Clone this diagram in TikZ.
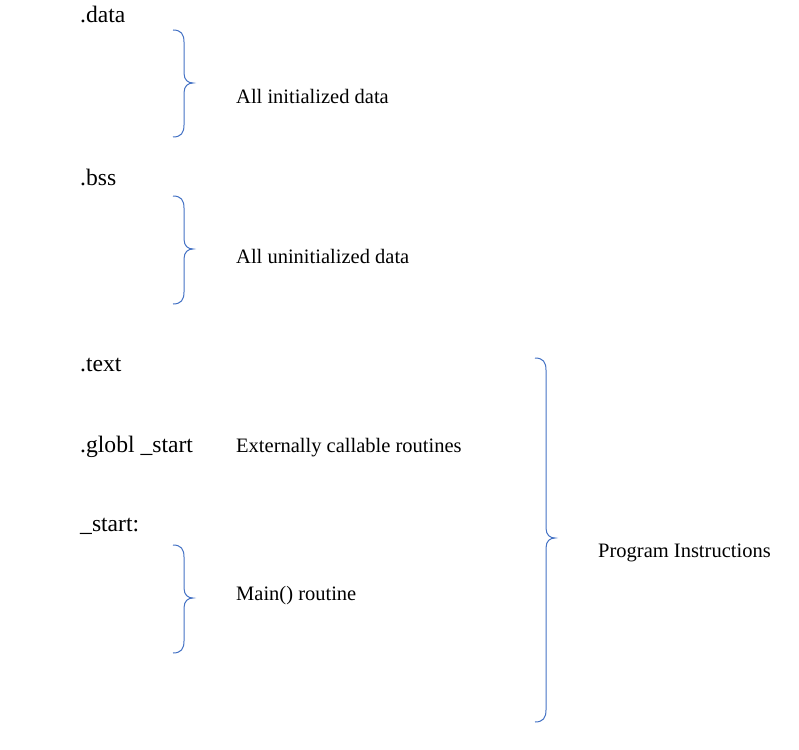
\documentclass[tikz,border=0pt]{standalone}
\usepackage{fontspec}
\setmainfont{Liberation Serif}
\definecolor{bracecol}{RGB}{68,114,196}
\tikzset{
  big/.style={anchor=base west,inner sep=0pt,font=\fontsize{23.6}{27}\selectfont},
  small/.style={anchor=base west,inner sep=0pt,font=\fontsize{20.5}{24}\selectfont},
  bracepath/.style={draw=bracecol,line width=1pt}
}
% \wbrace{x of line}{top y}{mid y}{bottom y}
\newcommand{\wbrace}[4]{%
  \draw[bracepath] (#1-11,#2) .. controls (#1-3,#2) and (#1,#2+4) .. (#1,#2+12)
    -- (#1,#3-10) .. controls (#1,#3-3) and (#1+4,#3) .. (#1+9,#3)
    .. controls (#1+4,#3) and (#1,#3+3) .. (#1,#3+10)
    -- (#1,#4-12) .. controls (#1,#4-4) and (#1-3,#4) .. (#1-11,#4);%
}
\begin{document}
\begin{tikzpicture}[x=1pt,y=-1pt]
\useasboundingbox (0,0) rectangle (799,749);
\node[big] (data) at (80,23) {.data};
\node[big] (bss) at (80,185) {.bss};
\node[big] (text) at (80,371) {.text};
\node[big] (globl) at (80,452) {.globl \_start};
\node[big] (start) at (80,531) {\_start:};
\node[small] (init) at (236,103) {All initialized data};
\node[small] (uninit) at (236,263) {All uninitialized data};
\node[small] (ext) at (236,452) {Externally callable routines};
\node[small] (mainr) at (236,600) {Main() routine};
\node[small] (prog) at (598,557) {Program Instructions};
\wbrace{184}{30}{83}{137}
\wbrace{184}{196}{249}{304}
\wbrace{184}{545}{598}{653}
\wbrace{546}{358}{538}{722}
\end{tikzpicture}
\end{document}
